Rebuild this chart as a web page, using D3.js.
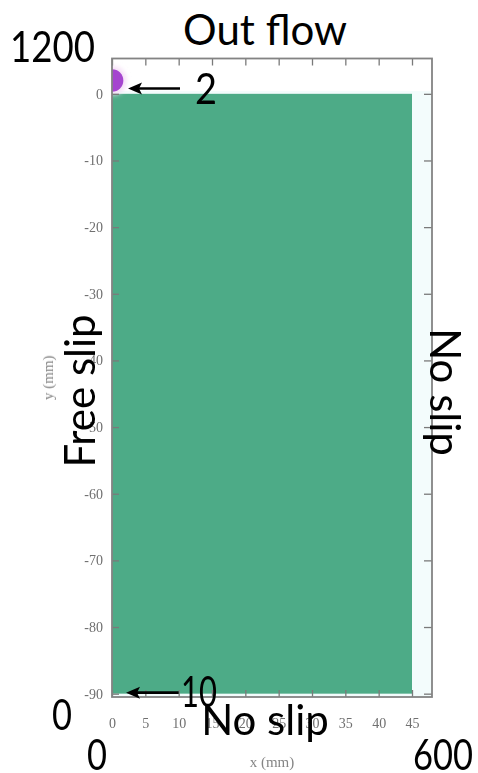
<!DOCTYPE html>
<html>
<head>
<meta charset="utf-8">
<script src="https://cdn.jsdelivr.net/npm/d3@7/dist/d3.min.js"></script>
<style>
  html, body { margin: 0; padding: 0; background: #fff; }
  svg { display: block; }
</style>
</head>
<body>
<svg id="chart" width="478" height="773"></svg>
<script>
// Tank geometry (mm)
const xTicks = [0, 5, 10, 15, 20, 25, 30, 35, 40, 45];
const yTicks = [0, -10, -20, -30, -40, -50, -60, -70, -80, -90];
const xDomain = [0, 48];
const yDomain = [-90.5, 5.3];
// water column: [x0, x1, y0, y1]
const waterX = [0, 45];
const waterY = [-90, 0];
// droplet sitting on the free surface: [cx, cy, r]
const droplet = [0, 2.0, 1.7];
// boundary / size labels
const sideLabels = ["Out flow", "Free slip", "No slip", "No slip"];
const cornerLabels = ["1200", "0", "0", "600"];
const arrowLabels = ["2", "10"];

const svg = d3.select("#chart");

const x = d3.scaleLinear().domain(xDomain).range([112, 432]);
const y = d3.scaleLinear().domain(yDomain).range([697, 58.5]);

const defs = svg.append("defs");
defs.append("clipPath").attr("id", "plotClip")
  .append("rect")
  .attr("x", x(xDomain[0])).attr("y", y(yDomain[1]))
  .attr("width", x(xDomain[1]) - x(xDomain[0]))
  .attr("height", y(yDomain[0]) - y(yDomain[1]));
defs.append("filter").attr("id", "soft")
  .append("feGaussianBlur").attr("stdDeviation", 0.45);
defs.append("filter").attr("id", "softer")
  .append("feGaussianBlur").attr("stdDeviation", 0.65);
defs.append("filter").attr("id", "glow").attr("x", "-50%").attr("y", "-50%").attr("width", "200%").attr("height", "200%")
  .append("feGaussianBlur").attr("stdDeviation", 2.5);

const chart = svg.append("g").attr("filter", "url(#soft)");

// faint fluid haze below the free surface
chart.append("rect")
  .attr("clip-path", "url(#plotClip)")
  .attr("x", x(xDomain[0])).attr("y", y(0.4))
  .attr("width", x(xDomain[1]) - x(xDomain[0]))
  .attr("height", y(yDomain[0]) - y(0.4))
  .attr("fill", "#f3fcfc");

// water column
chart.append("rect")
  .attr("x", x(waterX[0])).attr("y", y(waterY[1]))
  .attr("width", x(waterX[1]) - x(waterX[0]))
  .attr("height", y(waterY[0]) - y(waterY[1]))
  .attr("fill", "#4eab87");

// droplet
const dropG = chart.append("g").attr("clip-path", "url(#plotClip)");
dropG.append("circle")
  .attr("cx", x(droplet[0])).attr("cy", y(droplet[1]))
  .attr("r", x(droplet[2]) - x(0) + 3)
  .attr("fill", "#f4dcf6").attr("filter", "url(#glow)");
dropG.append("circle")
  .attr("cx", x(droplet[0])).attr("cy", y(droplet[1]))
  .attr("r", x(droplet[2]) - x(0))
  .attr("fill", "#a544cf");

// axes, ticks pointing inward
const tickFmt = d => String(d);
const axisStyle = g => {
  g.select(".domain").remove();
  g.selectAll(".tick line").attr("stroke", "#7a7a7a").attr("stroke-width", 1.3);
  g.selectAll(".tick text")
    .attr("fill", "#6f6f6f")
    .attr("font-family", "'Liberation Serif', serif")
    .attr("font-size", 14)
    .attr("filter", "url(#softer)");
};

chart.append("g")
  .attr("transform", `translate(0,${y(yDomain[0])})`)
  .call(d3.axisBottom(x).tickValues(xTicks).tickFormat(tickFmt).tickSize(-7).tickPadding(21))
  .call(axisStyle);
chart.append("g")
  .attr("transform", `translate(0,${y(yDomain[1])})`)
  .call(d3.axisTop(x).tickValues(xTicks).tickFormat("").tickSize(-7))
  .call(axisStyle);
chart.append("g")
  .attr("transform", `translate(${x(xDomain[0])},0)`)
  .call(d3.axisLeft(y).tickValues(yTicks).tickFormat(tickFmt).tickSize(-7).tickPadding(9))
  .call(axisStyle);
chart.append("g")
  .attr("transform", `translate(${x(xDomain[1])},0)`)
  .call(d3.axisRight(y).tickValues(yTicks).tickFormat("").tickSize(-8))
  .call(axisStyle);

// frame
chart.append("rect")
  .attr("x", x(xDomain[0])).attr("y", y(yDomain[1]))
  .attr("width", x(xDomain[1]) - x(xDomain[0]))
  .attr("height", y(yDomain[0]) - y(yDomain[1]))
  .attr("fill", "none").attr("stroke", "#838383").attr("stroke-width", 1.8);

// axis titles
chart.append("text")
  .attr("x", (x(xDomain[0]) + x(xDomain[1])) / 2).attr("y", 767)
  .attr("text-anchor", "middle")
  .attr("font-family", "'Liberation Serif', serif").attr("font-size", 15)
  .attr("fill", "#858585").attr("filter", "url(#softer)")
  .text("x (mm)");
chart.append("text")
  .attr("transform", `translate(53,${(y(yDomain[0]) + y(yDomain[1])) / 2}) rotate(-90)`)
  .attr("text-anchor", "middle")
  .attr("font-family", "'Liberation Serif', serif").attr("font-size", 15)
  .attr("fill", "#858585").attr("filter", "url(#softer)")
  .text("y (mm)");

// annotation layer
const ann = svg.append("g")
  .attr("font-family", "Lato, 'Open Sans', sans-serif")
  .attr("font-size", 42)
  .attr("fill", "#000");

const label = (t, px, py, anchor, rot, len) => {
  const el = ann.append("text").attr("text-anchor", anchor).text(t);
  if (rot) el.attr("transform", `translate(${px},${py}) rotate(${rot})`);
  else el.attr("x", px).attr("y", py);
  if (len) el.attr("textLength", len).attr("lengthAdjust", "spacingAndGlyphs");
  return el;
};

label(sideLabels[0], 265, 45, "middle");
label(sideLabels[1], 95, 391, "middle", -90);
label(sideLabels[2], 430, 392, "middle", 90);
label(sideLabels[3], 265, 735, "middle");

label(cornerLabels[0], 10, 62, "start", 0, 85);
label(cornerLabels[1], 52, 730, "start", 0, 20);
label(cornerLabels[2], 87, 770, "start", 0, 20);
label(cornerLabels[3], 413, 770, "start", 0, 60);

// arrows pointing at the droplet and at the tank bottom
const arrow = (tipX, tipY, tailX) => {
  const g = ann.append("g");
  g.append("line")
    .attr("x1", tailX).attr("y1", tipY).attr("x2", tipX + 10).attr("y2", tipY)
    .attr("stroke", "#000").attr("stroke-width", 2.6);
  g.append("path")
    .attr("d", `M${tipX},${tipY} L${tipX + 14},${tipY - 6} L${tipX + 11},${tipY} L${tipX + 14},${tipY + 6} Z`)
    .attr("fill", "#000");
};
arrow(x(2.4), y(0.8), x(10.2));
label(arrowLabels[0], 195, 104, "start", 0, 22);
arrow(x(2.1), y(-89.85), x(10.0));
label(arrowLabels[1], 181, 707, "start", 0, 36);
</script>
</body>
</html>
